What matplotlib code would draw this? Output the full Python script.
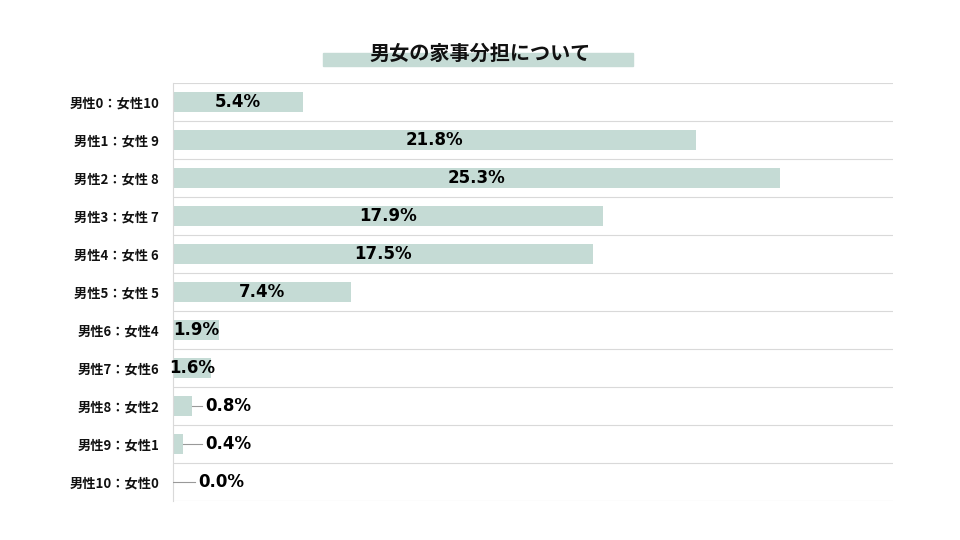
import matplotlib
matplotlib.use("Agg")
import matplotlib.pyplot as plt
from matplotlib.patches import Rectangle

plt.rcParams['font.family'] = ['Noto Sans CJK JP', 'DejaVu Sans']

title = "男女の家事分担について"
categories = ["男性0：女性10", "男性1：女性 9", "男性2：女性 8", "男性3：女性 7",
              "男性4：女性 6", "男性5：女性 5", "男性6：女性4", "男性7：女性6",
              "男性8：女性2", "男性9：女性1", "男性10：女性0"]
values = [5.4, 21.8, 25.3, 17.9, 17.5, 7.4, 1.9, 1.6, 0.8, 0.4, 0.0]
labels = ["5.4%", "21.8%", "25.3%", "17.9%", "17.5%", "7.4%", "1.9%", "1.6%",
          "0.8%", "0.4%", "0.0%"]

bar_color = "#c5dbd5"
grid_color = "#d9d9d9"

fig = plt.figure(figsize=(9.6, 5.4), dpi=100)
ax = fig.add_axes([173/960, 1-501/540, 720/960, 418/540])

n = len(categories)
ypos = list(range(n))
ax.barh(ypos, values, height=0.53, color=bar_color, zorder=2)
ax.set_xlim(0, 30)
ax.set_ylim(n-0.5, -0.5)
ax.set_yticks(ypos)
ax.set_yticklabels(categories, fontsize=9.5, fontweight='bold', color='#111111')
ax.tick_params(axis='y', length=0, pad=10)
ax.set_xticks([])
for s in ['top', 'right', 'bottom']:
    ax.spines[s].set_visible(False)
ax.spines['left'].set_color(grid_color)
ax.spines['left'].set_linewidth(0.8)
for b in range(n+1):
    ax.axhline(b-0.5, color=grid_color, lw=0.8, zorder=1)

for y, v, lab in zip(ypos, values, labels):
    if v >= 1.5:
        ax.text(v/2, y, lab, ha='center', va='center', fontsize=12,
                fontweight='bold', family='DejaVu Sans', zorder=3)
    else:
        tx = 1.35 if v > 0 else 1.05
        ax.plot([v, tx-0.15], [y, y], color='#999999', lw=0.8, zorder=3)
        ax.text(tx, y, lab, ha='left', va='center', fontsize=12,
                fontweight='bold', family='DejaVu Sans', zorder=3)

fig.patches.append(Rectangle((323/960, 1-66/540), 310/960, 13/540,
                             transform=fig.transFigure, color=bar_color, zorder=0))
fig.text(0.5, 1-53/540, title, ha='center', va='center', fontsize=14.5,
         fontweight='bold', color='#111111', zorder=2)

fig.savefig("out.png", dpi=100)
